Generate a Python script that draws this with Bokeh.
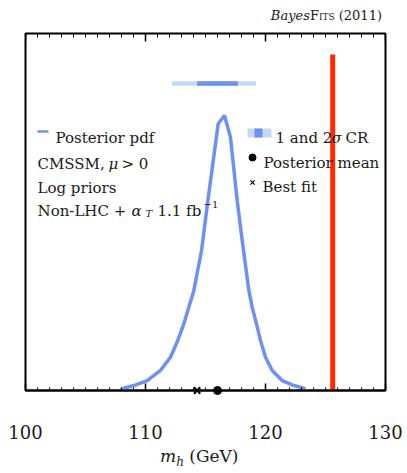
from bokeh.plotting import figure
from bokeh.models import Range1d, FixedTicker, Label, Div
from bokeh.layouts import column
from bokeh.embed import file_html
from bokeh.resources import INLINE

# ---- data ----
mh = [107.9, 108.2, 109.03, 110.14, 111.25, 112.08, 112.69, 113.19, 113.61, 114.03,
      114.67, 115.2, 116.06, 116.58, 117.08, 117.64, 118.06, 118.61, 118.89, 119.25,
      119.58, 120.0, 120.56, 121.39, 122.36, 123.33]
pdf = [0.0, 0.008, 0.018, 0.036, 0.073, 0.121, 0.182, 0.242, 0.303, 0.364,
       0.509, 0.691, 0.97, 1.0, 0.921, 0.691, 0.545, 0.364, 0.303, 0.242,
       0.182, 0.121, 0.073, 0.036, 0.018, 0.007]
cr68 = [114.3, 117.7]
cr95 = [112.2, 119.2]
cr_level = 1.116
post_mean = [116.0]
best_fit = [114.3]
lhc_mass = [125.6]
lhc_top = [1.222]
x_ticks = [100, 110, 120, 130]
x_minor = list(range(100, 131))

BLUE = "#6e90f0"
LIGHT = "#c5d9f5"
RED = "#ff2a00"
TXT = "#1a1a1a"
FONT = "DejaVu Serif"

W, H = 407, 473
TITLE_H = 28          # title strip above the figure
XLAB_H = 28           # axis-label strip below the figure
FIG_H = H - TITLE_H - XLAB_H
X0, X1, Y0, Y1 = 100, 130, 0.0, 1.298
L, R, T, B = 25, 22, 5, 55      # borders of the figure itself
FW, FH = W - L - R, FIG_H - T - B
FRAME_TOP = TITLE_H + T          # page y of the frame top
FRAME_BOT = FRAME_TOP + FH       # page y of the frame bottom

def X(px):
    return X0 + (px - L) * (X1 - X0) / FW

def Y(py):
    return Y0 + (FRAME_BOT - py) * (Y1 - Y0) / FH

p = figure(width=W, height=FIG_H, output_backend="svg", toolbar_location=None,
           x_range=Range1d(X0, X1), y_range=Range1d(Y0, Y1),
           y_axis_location=None, min_border_left=L, min_border_right=R,
           min_border_top=T, min_border_bottom=B)
p.grid.visible = False
p.outline_line_color = "black"
p.outline_line_width = 2
p.background_fill_color = "white"
p.border_fill_color = "white"

ax = p.xaxis[0]
ax.ticker = FixedTicker(ticks=x_ticks, minor_ticks=x_minor)
ax.axis_line_width = 2
ax.major_tick_in = 7
ax.major_tick_out = 0
ax.minor_tick_in = 3
ax.minor_tick_out = 0
ax.major_tick_line_width = 1.5
ax.minor_tick_line_width = 1
ax.major_label_text_font = FONT
ax.major_label_text_font_size = "18px"
ax.major_label_text_color = TXT
ax.major_label_standoff = 34

# inward ticks along the top edge
px_unit = (Y1 - Y0) / FH
p.segment(x0=x_minor, y0=[Y1] * len(x_minor), x1=x_minor,
          y1=[Y1 - 4 * px_unit] * len(x_minor), line_color="black", line_width=1)
p.segment(x0=x_ticks, y0=[Y1] * len(x_ticks), x1=x_ticks,
          y1=[Y1 - 8 * px_unit] * len(x_ticks), line_color="black", line_width=1.5)

# curve
p.line(mh, pdf, line_color=BLUE, line_width=3.5)

# credible regions
p.segment(x0=[cr95[0]], y0=[cr_level], x1=[cr95[1]], y1=[cr_level],
          line_color=LIGHT, line_width=4.5)
p.segment(x0=[cr68[0]], y0=[cr_level], x1=[cr68[1]], y1=[cr_level],
          line_color=BLUE, line_width=4.5)

# mean and best fit
r1 = p.scatter(best_fit, [0], marker="x", size=9, line_color="black", line_width=2)
r2 = p.scatter(post_mean, [0], marker="circle", size=8, fill_color="black", line_color="black")
r1.level = "overlay"
r2.level = "overlay"

# legend (left)
p.segment(x0=[X(37)], y0=[Y(131)], x1=[X(48)], y1=[Y(131)], line_color=BLUE, line_width=2.5)

def lab(px, py, text, size=15, style="normal", align="left"):
    p.add_layout(Label(x=X(px), y=Y(py), text=text, text_font=FONT,
                       text_font_size=f"{size}px", text_font_style=style,
                       text_color=TXT, text_align=align, text_baseline="alphabetic"))

lab(55, 137, "Posterior pdf")
lab(37, 163, "CMSSM,")
lab(108, 163, "μ", style="italic")
lab(121, 163, "> 0")
lab(37, 187, "Log priors")
lab(37, 210, "Non-LHC +")
lab(131, 210, "α", style="italic")
lab(145, 213, "T", size=10, style="italic")
lab(157, 210, "1.1 fb")
lab(203, 204, "−1", size=10)

# legend (right)
p.quad(left=[X(247)], right=[X(271)], top=[Y(128)], bottom=[Y(137)],
       fill_color=LIGHT, line_color=None)
p.quad(left=[X(254)], right=[X(262)], top=[Y(128)], bottom=[Y(137)],
       fill_color=BLUE, line_color=None)
lab(275, 137, "1 and 2")
lab(331, 137, "σ", style="italic")
lab(345, 137, "CR")
p.scatter([X(252)], [Y(157)], marker="circle", size=7, fill_color="black", line_color="black")
lab(263, 162, "Posterior mean")
p.scatter([X(252)], [Y(182)], marker="x", size=6, line_color="black", line_width=1.2)
lab(262, 186, "Best fit")

# LHC mass line (on top)
p.segment(x0=lhc_mass, y0=[0], x1=lhc_mass, y1=lhc_top, line_color=RED, line_width=5)

# title strip
title_html = (
    f'<div style="position:relative;width:{W}px;height:{TITLE_H}px;'
    f'font-family:\'{FONT}\';color:{TXT};">'
    f'<span style="position:absolute;right:25px;top:9px;font-size:13px;line-height:1;'
    f'white-space:nowrap;"><i>Bayes</i><span style="font-variant:small-caps;">Fits</span> (2011)</span>'
    f'</div>'
)
title_div = Div(text=title_html, width=W, height=TITLE_H, margin=(0, 0, 0, 0))

# x-axis label strip
xlab_html = (
    f'<div style="position:relative;width:{W}px;height:{XLAB_H}px;'
    f'font-family:\'{FONT}\';color:{TXT};">'
    f'<span style="position:absolute;left:160px;top:3px;font-size:17px;line-height:1;'
    f'white-space:nowrap;"><i>m</i><sub style="font-size:12px;line-height:0;"><i>h</i></sub> (GeV)</span>'
    f'</div>'
)
xlab_div = Div(text=xlab_html, width=W, height=XLAB_H, margin=(0, 0, 0, 0))

layout = column(title_div, p, xlab_div, spacing=0, margin=(0, 0, 0, 0))

open("out.html", "w").write(file_html(layout, INLINE))
